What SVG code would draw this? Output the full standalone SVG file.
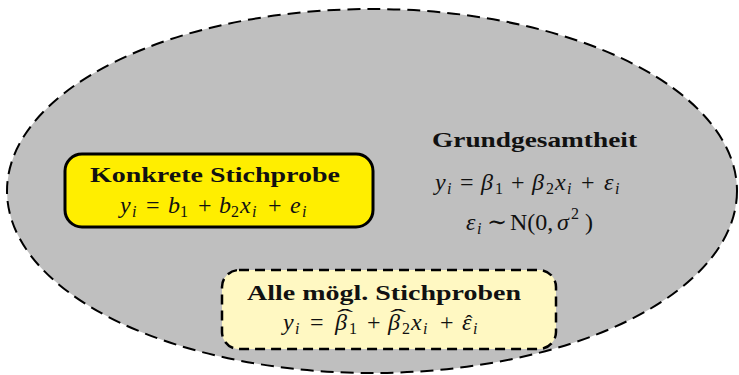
<svg xmlns="http://www.w3.org/2000/svg" width="739" height="375" viewBox="0 0 739 375">
<style>
.t{font-family:"Liberation Serif","DejaVu Serif",serif;fill:#111;}
.h{font-weight:bold;font-size:22px;}
.m{font-size:24px;}
.i{font-style:italic;}
.s{font-size:16px;}
.hat{font-family:"Liberation Serif","DejaVu Serif",serif;fill:#111;font-size:22px;}
</style>
<rect width="739" height="375" fill="#fff"/>
<g id="grundgesamtheit">
<ellipse cx="372" cy="191" rx="365" ry="182" fill="#bfbfbf" stroke="#000" stroke-width="2" stroke-dasharray="13,7"/>
<text class="t h" x="432" y="147" textLength="205" lengthAdjust="spacingAndGlyphs">Grundgesamtheit</text>
<text class="t m" y="190"><tspan class="i" x="435">y</tspan><tspan class="i s" x="447" y="194">i</tspan><tspan x="460" y="190">=</tspan><tspan class="i" x="481">β</tspan><tspan class="s" x="495" y="194">1</tspan><tspan x="511" y="190">+</tspan><tspan class="i" x="532">β</tspan><tspan class="s" x="546" y="194">2</tspan><tspan class="i" x="555" y="190">x</tspan><tspan class="i s" x="567" y="194">i</tspan><tspan x="581" y="190">+</tspan><tspan class="i" x="604">ε</tspan><tspan class="i s" x="615" y="194">i</tspan></text>
<text class="t m" y="230"><tspan class="i" x="466">ε</tspan><tspan class="i s" x="477" y="234">i</tspan><tspan x="487" y="230">∼</tspan><tspan x="510">N(0,</tspan><tspan class="i" x="557">σ</tspan><tspan class="s" x="571" y="219">2</tspan><tspan x="585" y="230">)</tspan></text>
</g>
<g id="konkrete">
<rect x="65" y="154" width="308" height="73" rx="17" fill="#ffee00" stroke="#000" stroke-width="3"/>
<text class="t h" x="90" y="182" textLength="250" lengthAdjust="spacingAndGlyphs">Konkrete Stichprobe</text>
<text class="t m" y="213"><tspan class="i" x="120">y</tspan><tspan class="i s" x="132" y="217">i</tspan><tspan x="146" y="213">=</tspan><tspan class="i" x="168">b</tspan><tspan class="s" x="180" y="217">1</tspan><tspan x="198" y="213">+</tspan><tspan class="i" x="219">b</tspan><tspan class="s" x="231" y="217">2</tspan><tspan class="i" x="240" y="213">x</tspan><tspan class="i s" x="252" y="217">i</tspan><tspan x="268" y="213">+</tspan><tspan class="i" x="290">e</tspan><tspan class="i s" x="302" y="217">i</tspan></text>
</g>
<g id="alle">
<rect x="222" y="270" width="334" height="79" rx="17" fill="#fff8c2" stroke="#000" stroke-width="2.5" stroke-dasharray="10,6"/>
<text class="t h" x="247" y="300" textLength="274" lengthAdjust="spacingAndGlyphs">Alle mögl. Stichproben</text>
<text class="t m" y="330"><tspan class="i" x="283">y</tspan><tspan class="i s" x="295" y="334">i</tspan><tspan x="310" y="330">=</tspan><tspan class="i" x="335">β</tspan><tspan class="s" x="349" y="334">1</tspan><tspan x="367" y="330">+</tspan><tspan class="i" x="388">β</tspan><tspan class="s" x="402" y="334">2</tspan><tspan class="i" x="411" y="330">x</tspan><tspan class="i s" x="423" y="334">i</tspan><tspan x="440" y="330">+</tspan><tspan class="i" x="462">ε</tspan><tspan class="i s" x="473" y="334">i</tspan></text>
<text class="hat" transform="translate(345,324) scale(2.2,1)" text-anchor="middle">ˆ</text>
<text class="hat" transform="translate(398,324) scale(2.2,1)" text-anchor="middle">ˆ</text>
<text class="hat" transform="translate(469,330)" text-anchor="middle">ˆ</text>
</g>
<g id="connectors"></g>
</svg>
